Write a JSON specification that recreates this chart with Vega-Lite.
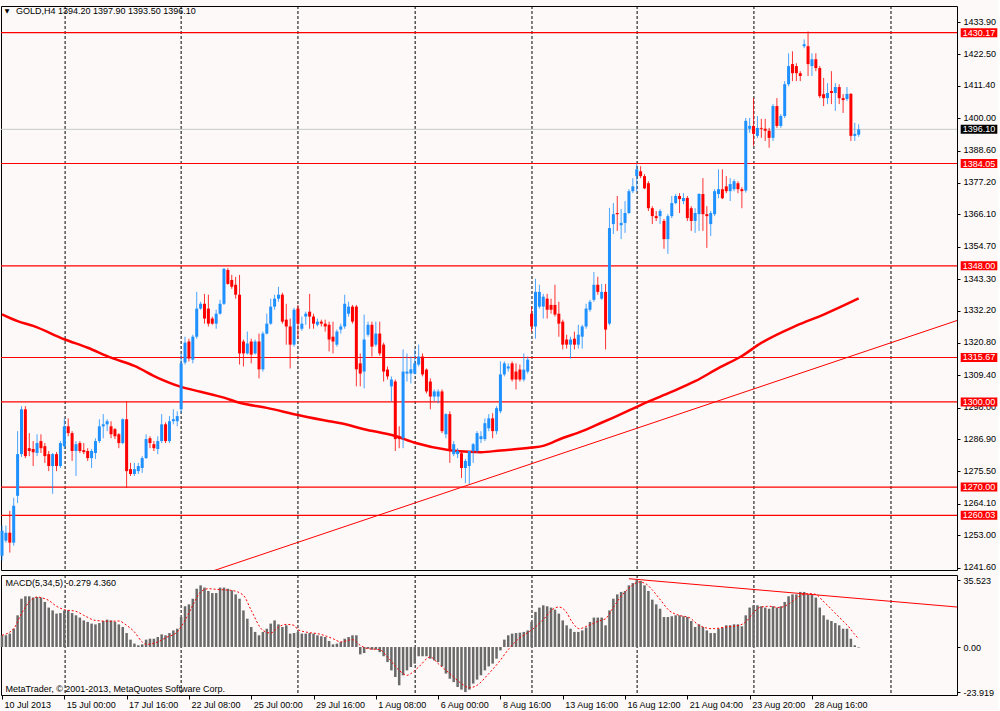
{
"$schema": "https://vega.github.io/schema/vega-lite/v6.json",
"background": "#FCF9F8",
"padding": {"left": -4, "top": 5, "right": 0, "bottom": 0},
"spacing": 1,
"config": {
  "view": {"stroke": "#000000", "strokeWidth": 1, "fill": "#FCF9F8"},
  "scale": {"continuousPadding": 0},
  "axis": {"labelFont": "Liberation Sans", "labelFontSize": 9, "labelColor": "#000000", "tickColor": "#000000", "domainColor": "#000000", "grid": false},
  "text": {"font": "Liberation Sans", "fontSize": 9, "color": "#000000"}
},
"resolve": {"scale": {"x": "independent", "y": "independent"}},
"datasets": {
  "grid": [{"g":16.2},{"g":46},{"g":76},{"g":106.1},{"g":136.1},{"g":163.1},{"g":193.1},{"g":228.3}],
  "levels": [{"p":1430.17},{"p":1384.05},{"p":1348.0},{"p":1315.67},{"p":1300.0},{"p":1270.0},{"p":1260.03}],
  "ma": [{"i":0,"p":1330.9},{"i":4,"p":1328.5},{"i":8,"p":1326.8},{"i":16,"p":1322.1},{"i":22,"p":1319.1},{"i":28,"p":1315.6},{"i":34,"p":1312.7},{"i":40,"p":1308.5},{"i":46,"p":1305.3},{"i":51,"p":1303.6},{"i":57,"p":1301.5},{"i":61,"p":1299.7},{"i":68,"p":1297.9},{"i":76,"p":1295.4},{"i":84,"p":1293.2},{"i":87,"p":1292.5},{"i":93,"p":1290.4},{"i":101,"p":1288.0},{"i":106,"p":1285.6},{"i":115,"p":1283.0},{"i":120,"p":1282.4},{"i":123,"p":1282.3},{"i":128,"p":1282.9},{"i":136,"p":1283.9},{"i":139,"p":1284.5},{"i":144,"p":1287.3},{"i":149,"p":1289.7},{"i":152,"p":1291.5},{"i":157,"p":1294.5},{"i":161,"p":1297.0},{"i":164,"p":1298.9},{"i":171,"p":1303.0},{"i":178,"p":1307.3},{"i":184,"p":1311.9},{"i":190,"p":1316.2},{"i":195,"p":1320.8},{"i":204,"p":1326.9},{"i":211,"p":1330.8},{"i":220,"p":1336.5}],
  "sig": [{"i":0,"v":6.2},{"i":3,"v":9.7},{"i":5,"v":17.7},{"i":7,"v":23.9},{"i":9,"v":26.5},{"i":10,"v":26.2},{"i":12,"v":24.7},{"i":14,"v":21.6},{"i":16,"v":19.8},{"i":19,"v":18.9},{"i":21,"v":16.8},{"i":24,"v":14.1},{"i":28,"v":13.6},{"i":30,"v":13.8},{"i":32,"v":11.5},{"i":34,"v":8.0},{"i":36,"v":2.7},{"i":37,"v":1.4},{"i":40,"v":2.7},{"i":42,"v":4.9},{"i":45,"v":8.0},{"i":47,"v":14.1},{"i":49,"v":22.1},{"i":51,"v":29.2},{"i":53,"v":30.9},{"i":56,"v":30.4},{"i":59,"v":30.0},{"i":62,"v":27.4},{"i":64,"v":19.4},{"i":67,"v":8.8},{"i":69,"v":7.4},{"i":71,"v":10.6},{"i":73,"v":12.0},{"i":75,"v":11.5},{"i":76,"v":9.2},{"i":79,"v":7.6},{"i":81,"v":7.1},{"i":85,"v":4.4},{"i":87,"v":2.7},{"i":90,"v":3.9},{"i":92,"v":0.9},{"i":94,"v":-0.9},{"i":97,"v":-1.4},{"i":99,"v":-5.3},{"i":102,"v":-12.4},{"i":104,"v":-15.0},{"i":105,"v":-14.1},{"i":107,"v":-10.6},{"i":110,"v":-5.3},{"i":112,"v":-8.8},{"i":115,"v":-14.1},{"i":118,"v":-19.4},{"i":120,"v":-21.6},{"i":122,"v":-20.3},{"i":125,"v":-14.1},{"i":127.6,"v":-8.0},{"i":130.2,"v":-0.9},{"i":132.7,"v":4.4},{"i":135.3,"v":8.0},{"i":137.5,"v":11.5},{"i":139.6,"v":15.9},{"i":141.3,"v":19.8},{"i":143,"v":21.2},{"i":144.7,"v":19.1},{"i":146.4,"v":13.3},{"i":148.2,"v":9.7},{"i":150.7,"v":11.5},{"i":153.3,"v":13.8},{"i":155,"v":15.0},{"i":156.8,"v":20.3},{"i":158.5,"v":25.6},{"i":160.2,"v":29.7},{"i":161.9,"v":32.7},{"i":163.6,"v":34.5},{"i":165.3,"v":33.6},{"i":167.1,"v":30.0},{"i":169.2,"v":24.7},{"i":171.3,"v":19.4},{"i":173.9,"v":16.8},{"i":176.5,"v":15.6},{"i":179,"v":11.5},{"i":182.5,"v":9.7},{"i":185.9,"v":10.6},{"i":189.3,"v":11.5},{"i":191,"v":13.3},{"i":192.8,"v":17.7},{"i":194.5,"v":20.9},{"i":197,"v":21.6},{"i":199.6,"v":20.9},{"i":202.2,"v":23.0},{"i":204.7,"v":26.9},{"i":207.3,"v":28.3},{"i":209,"v":27.9},{"i":210.7,"v":24.7},{"i":213.3,"v":19.4},{"i":215.8,"v":14.1},{"i":217.5,"v":10.6},{"i":218.8,"v":7.1},{"i":220,"v":4.36}],
  "bars": [
{"i":0,"o":1245.8,"h":1256.4,"l":1244.1,"c":1254.6,"m":6.2},
{"i":1,"o":1251.1,"h":1256.4,"l":1250.4,"c":1253.9,"m":6.2},
{"i":2,"o":1253.9,"h":1261.6,"l":1246.9,"c":1250.4,"m":7.1},
{"i":3,"o":1250.4,"h":1266.2,"l":1249.3,"c":1263.4,"m":9.7},
{"i":4,"o":1266.9,"h":1289.7,"l":1264.4,"c":1281.6,"m":16.8},
{"i":5,"o":1281.6,"h":1298.5,"l":1280.6,"c":1297.4,"m":25.6},
{"i":6,"o":1297.4,"h":1298.5,"l":1280.2,"c":1280.9,"m":26.9},
{"i":7,"o":1283.7,"h":1289.0,"l":1280.9,"c":1282.7,"m":26.9},
{"i":8,"o":1283.4,"h":1286.2,"l":1277.4,"c":1282.3,"m":26.2},
{"i":9,"o":1282.0,"h":1288.6,"l":1280.9,"c":1285.5,"m":26.5},
{"i":10,"o":1286.2,"h":1288.6,"l":1282.0,"c":1283.7,"m":26.2},
{"i":11,"o":1284.4,"h":1285.5,"l":1278.5,"c":1280.9,"m":23.9},
{"i":12,"o":1281.6,"h":1282.7,"l":1275.6,"c":1277.4,"m":20.9},
{"i":13,"o":1277.4,"h":1282.0,"l":1267.6,"c":1281.6,"m":19.4},
{"i":14,"o":1281.6,"h":1282.3,"l":1275.6,"c":1277.4,"m":17.7},
{"i":15,"o":1277.4,"h":1286.2,"l":1276.7,"c":1285.5,"m":18.0},
{"i":16,"o":1284.4,"h":1294.2,"l":1283.4,"c":1291.4,"m":19.4},
{"i":17,"o":1291.4,"h":1294.2,"l":1287.9,"c":1289.0,"m":19.4},
{"i":18,"o":1289.0,"h":1289.7,"l":1279.2,"c":1282.7,"m":18.0},
{"i":19,"o":1282.7,"h":1286.2,"l":1273.9,"c":1285.1,"m":16.8},
{"i":20,"o":1285.5,"h":1286.2,"l":1282.0,"c":1282.7,"m":15.6},
{"i":21,"o":1283.0,"h":1285.5,"l":1281.6,"c":1282.3,"m":14.1},
{"i":22,"o":1282.7,"h":1283.7,"l":1279.2,"c":1280.2,"m":13.3},
{"i":23,"o":1280.2,"h":1283.4,"l":1276.7,"c":1282.7,"m":12.4},
{"i":24,"o":1282.0,"h":1287.2,"l":1279.9,"c":1286.2,"m":12.0},
{"i":25,"o":1286.2,"h":1293.9,"l":1285.5,"c":1291.4,"m":12.7},
{"i":26,"o":1291.4,"h":1295.7,"l":1287.2,"c":1292.1,"m":13.8},
{"i":27,"o":1292.1,"h":1293.9,"l":1289.7,"c":1293.2,"m":14.5},
{"i":28,"o":1291.4,"h":1293.2,"l":1287.2,"c":1288.6,"m":14.1},
{"i":29,"o":1290.4,"h":1290.8,"l":1286.9,"c":1287.9,"m":13.3},
{"i":30,"o":1288.6,"h":1289.0,"l":1283.7,"c":1285.5,"m":12.0},
{"i":31,"o":1285.5,"h":1294.2,"l":1285.1,"c":1293.9,"m":10.6},
{"i":32,"o":1293.9,"h":1300.2,"l":1269.7,"c":1275.6,"m":7.4},
{"i":33,"o":1276.3,"h":1278.5,"l":1273.9,"c":1274.6,"m":3.9},
{"i":34,"o":1274.6,"h":1278.5,"l":1273.9,"c":1276.3,"m":1.8},
{"i":35,"o":1275.6,"h":1278.5,"l":1274.6,"c":1277.4,"m":0.9},
{"i":36,"o":1276.7,"h":1280.9,"l":1275.0,"c":1280.2,"m":1.4},
{"i":37,"o":1280.2,"h":1288.6,"l":1279.9,"c":1286.9,"m":3.9},
{"i":38,"o":1287.2,"h":1287.9,"l":1283.7,"c":1285.5,"m":4.4},
{"i":39,"o":1285.1,"h":1286.2,"l":1282.7,"c":1283.7,"m":4.4},
{"i":40,"o":1283.4,"h":1287.9,"l":1281.6,"c":1286.2,"m":5.3},
{"i":41,"o":1286.2,"h":1295.7,"l":1285.5,"c":1292.1,"m":6.7},
{"i":42,"o":1292.1,"h":1292.8,"l":1285.5,"c":1286.2,"m":6.2},
{"i":43,"o":1286.2,"h":1295.0,"l":1285.5,"c":1293.2,"m":7.4},
{"i":44,"o":1293.2,"h":1297.4,"l":1292.1,"c":1293.9,"m":8.8},
{"i":45,"o":1293.2,"h":1296.7,"l":1291.4,"c":1295.0,"m":9.7},
{"i":46,"o":1297.4,"h":1317.1,"l":1296.0,"c":1313.6,"m":15.9},
{"i":47,"o":1313.9,"h":1323.0,"l":1313.2,"c":1320.9,"m":21.6},
{"i":48,"o":1321.3,"h":1322.3,"l":1314.3,"c":1315.3,"m":22.6},
{"i":49,"o":1314.9,"h":1323.7,"l":1313.6,"c":1323.0,"m":25.6},
{"i":50,"o":1323.0,"h":1338.8,"l":1322.3,"c":1332.9,"m":30.9},
{"i":51,"o":1332.9,"h":1335.3,"l":1332.5,"c":1334.6,"m":32.7},
{"i":52,"o":1334.6,"h":1338.1,"l":1327.6,"c":1329.4,"m":31.5},
{"i":53,"o":1332.9,"h":1337.8,"l":1326.6,"c":1327.6,"m":29.7},
{"i":54,"o":1329.4,"h":1330.1,"l":1327.2,"c":1327.6,"m":28.6},
{"i":55,"o":1327.6,"h":1332.5,"l":1325.8,"c":1331.1,"m":28.6},
{"i":56,"o":1331.1,"h":1336.0,"l":1330.8,"c":1334.6,"m":31.5},
{"i":57,"o":1334.6,"h":1347.2,"l":1334.2,"c":1346.9,"m":31.5},
{"i":58,"o":1346.5,"h":1347.2,"l":1341.3,"c":1341.6,"m":30.9},
{"i":59,"o":1343.0,"h":1344.8,"l":1339.9,"c":1340.6,"m":30.0},
{"i":60,"o":1341.3,"h":1344.1,"l":1336.4,"c":1337.8,"m":27.9},
{"i":61,"o":1337.8,"h":1344.8,"l":1313.2,"c":1317.1,"m":25.6},
{"i":62,"o":1321.3,"h":1322.0,"l":1312.5,"c":1317.1,"m":19.4},
{"i":63,"o":1317.1,"h":1324.8,"l":1316.7,"c":1320.6,"m":15.0},
{"i":64,"o":1321.3,"h":1322.3,"l":1313.6,"c":1316.7,"m":10.6},
{"i":65,"o":1317.1,"h":1322.0,"l":1316.7,"c":1321.3,"m":8.0},
{"i":66,"o":1321.3,"h":1324.1,"l":1308.3,"c":1311.5,"m":6.2},
{"i":67,"o":1311.5,"h":1324.8,"l":1310.7,"c":1324.1,"m":8.0},
{"i":68,"o":1324.1,"h":1331.1,"l":1323.8,"c":1327.6,"m":9.7},
{"i":69,"o":1327.6,"h":1336.4,"l":1327.2,"c":1333.6,"m":12.4},
{"i":70,"o":1333.6,"h":1337.8,"l":1332.5,"c":1336.4,"m":14.1},
{"i":71,"o":1336.4,"h":1340.6,"l":1335.3,"c":1337.8,"m":12.0},
{"i":72,"o":1337.8,"h":1338.5,"l":1327.6,"c":1328.3,"m":10.6},
{"i":73,"o":1329.0,"h":1334.6,"l":1320.2,"c":1326.6,"m":11.5},
{"i":74,"o":1326.6,"h":1329.4,"l":1311.8,"c":1320.2,"m":7.1},
{"i":75,"o":1320.2,"h":1333.2,"l":1319.5,"c":1332.5,"m":7.4},
{"i":76,"o":1332.9,"h":1334.2,"l":1322.3,"c":1327.6,"m":8.0},
{"i":77,"o":1325.8,"h":1330.1,"l":1325.1,"c":1327.6,"m":7.1},
{"i":78,"o":1330.1,"h":1331.8,"l":1327.2,"c":1331.1,"m":7.1},
{"i":79,"o":1331.8,"h":1338.1,"l":1325.8,"c":1330.1,"m":7.4},
{"i":80,"o":1330.1,"h":1331.1,"l":1325.8,"c":1327.6,"m":7.1},
{"i":81,"o":1327.2,"h":1329.4,"l":1326.6,"c":1328.3,"m":6.2},
{"i":82,"o":1328.3,"h":1329.0,"l":1326.6,"c":1327.6,"m":5.7},
{"i":83,"o":1327.6,"h":1329.0,"l":1324.8,"c":1326.6,"m":5.3},
{"i":84,"o":1327.2,"h":1328.3,"l":1317.8,"c":1322.0,"m":3.2},
{"i":85,"o":1323.0,"h":1328.3,"l":1317.1,"c":1321.3,"m":1.4},
{"i":86,"o":1320.2,"h":1325.5,"l":1319.5,"c":1324.8,"m":1.8},
{"i":87,"o":1325.5,"h":1327.6,"l":1324.1,"c":1326.6,"m":2.7},
{"i":88,"o":1326.6,"h":1337.8,"l":1325.8,"c":1334.6,"m":4.4},
{"i":89,"o":1331.1,"h":1335.3,"l":1330.1,"c":1333.6,"m":5.3},
{"i":90,"o":1333.6,"h":1334.2,"l":1327.6,"c":1328.3,"m":6.2},
{"i":91,"o":1333.6,"h":1334.2,"l":1305.5,"c":1311.5,"m":6.2},
{"i":92,"o":1313.6,"h":1317.1,"l":1305.5,"c":1310.0,"m":-3.9},
{"i":93,"o":1310.7,"h":1330.8,"l":1304.8,"c":1322.0,"m":-3.2},
{"i":94,"o":1323.7,"h":1328.3,"l":1323.0,"c":1327.2,"m":-0.9},
{"i":95,"o":1327.2,"h":1328.3,"l":1316.0,"c":1319.5,"m":-1.4},
{"i":96,"o":1320.2,"h":1328.3,"l":1319.5,"c":1324.1,"m":-1.4},
{"i":97,"o":1324.1,"h":1328.3,"l":1316.3,"c":1317.1,"m":-2.7},
{"i":98,"o":1320.2,"h":1320.9,"l":1307.2,"c":1310.7,"m":-4.9},
{"i":99,"o":1311.4,"h":1312.5,"l":1307.9,"c":1309.0,"m":-8.0},
{"i":100,"o":1305.5,"h":1309.0,"l":1300.2,"c":1307.9,"m":-12.4},
{"i":101,"o":1307.2,"h":1307.9,"l":1282.7,"c":1286.9,"m":-15.9},
{"i":102,"o":1287.9,"h":1291.4,"l":1283.7,"c":1286.9,"m":-20.3},
{"i":103,"o":1287.2,"h":1318.5,"l":1283.7,"c":1310.7,"m":-15.0},
{"i":104,"o":1310.0,"h":1317.1,"l":1307.2,"c":1310.7,"m":-12.4},
{"i":105,"o":1310.0,"h":1316.0,"l":1306.5,"c":1311.5,"m":-10.6},
{"i":106,"o":1310.0,"h":1318.5,"l":1309.7,"c":1313.6,"m":-8.8},
{"i":107,"o":1313.2,"h":1320.2,"l":1312.5,"c":1316.0,"m":-4.9},
{"i":108,"o":1316.0,"h":1317.1,"l":1309.0,"c":1309.7,"m":-4.9},
{"i":109,"o":1311.4,"h":1311.8,"l":1303.0,"c":1303.7,"m":-4.9},
{"i":110,"o":1307.2,"h":1308.3,"l":1297.4,"c":1301.9,"m":-6.2},
{"i":111,"o":1301.9,"h":1304.4,"l":1300.2,"c":1303.7,"m":-7.1},
{"i":112,"o":1301.9,"h":1304.4,"l":1299.5,"c":1303.7,"m":-8.0},
{"i":113,"o":1303.7,"h":1304.4,"l":1289.0,"c":1289.7,"m":-10.3},
{"i":114,"o":1288.6,"h":1296.0,"l":1287.2,"c":1295.7,"m":-14.1},
{"i":115,"o":1295.7,"h":1296.7,"l":1278.5,"c":1283.4,"m":-16.8},
{"i":116,"o":1281.6,"h":1286.2,"l":1280.9,"c":1285.1,"m":-18.6},
{"i":117,"o":1281.6,"h":1283.7,"l":1280.2,"c":1282.7,"m":-21.2},
{"i":118,"o":1281.9,"h":1282.7,"l":1273.2,"c":1276.7,"m":-22.6},
{"i":119,"o":1276.7,"h":1279.9,"l":1271.4,"c":1279.2,"m":-23.9},
{"i":120,"o":1277.4,"h":1281.6,"l":1271.1,"c":1282.7,"m":-22.6},
{"i":121,"o":1282.7,"h":1285.5,"l":1278.5,"c":1285.1,"m":-19.4},
{"i":122,"o":1282.7,"h":1289.7,"l":1282.0,"c":1289.0,"m":-17.3},
{"i":123,"o":1286.9,"h":1289.7,"l":1285.5,"c":1287.9,"m":-15.0},
{"i":124,"o":1286.9,"h":1294.2,"l":1286.2,"c":1292.5,"m":-12.4},
{"i":125,"o":1290.7,"h":1295.7,"l":1289.7,"c":1294.2,"m":-10.3},
{"i":126,"o":1294.2,"h":1296.0,"l":1287.2,"c":1289.7,"m":-8.8},
{"i":127,"o":1289.7,"h":1298.5,"l":1288.6,"c":1297.8,"m":-6.2},
{"i":128,"o":1296.7,"h":1314.3,"l":1296.0,"c":1309.7,"m":-1.8},
{"i":129,"o":1309.7,"h":1314.3,"l":1309.0,"c":1313.6,"m":3.9},
{"i":130,"o":1311.8,"h":1313.6,"l":1310.7,"c":1312.5,"m":6.2},
{"i":131,"o":1313.6,"h":1314.3,"l":1307.2,"c":1307.9,"m":7.1},
{"i":132,"o":1310.7,"h":1313.6,"l":1304.4,"c":1307.9,"m":7.4},
{"i":133,"o":1311.4,"h":1313.2,"l":1307.2,"c":1307.9,"m":7.6},
{"i":134,"o":1307.9,"h":1317.1,"l":1307.2,"c":1311.4,"m":8.0},
{"i":135,"o":1310.7,"h":1316.0,"l":1310.0,"c":1314.9,"m":8.8},
{"i":136,"o":1331.1,"h":1333.6,"l":1324.8,"c":1326.6,"m":13.3},
{"i":137,"o":1326.6,"h":1343.4,"l":1322.3,"c":1338.8,"m":18.6},
{"i":138,"o":1333.6,"h":1341.3,"l":1332.9,"c":1338.8,"m":20.9},
{"i":139,"o":1333.6,"h":1338.1,"l":1329.4,"c":1337.1,"m":22.1},
{"i":140,"o":1336.4,"h":1338.1,"l":1329.4,"c":1332.5,"m":21.6},
{"i":141,"o":1334.2,"h":1336.4,"l":1331.1,"c":1332.5,"m":20.9},
{"i":142,"o":1334.2,"h":1341.3,"l":1330.1,"c":1330.8,"m":19.8},
{"i":143,"o":1331.1,"h":1335.3,"l":1323.0,"c":1327.6,"m":17.7},
{"i":144,"o":1328.3,"h":1329.0,"l":1318.5,"c":1320.2,"m":14.1},
{"i":145,"o":1322.0,"h":1323.7,"l":1318.8,"c":1320.2,"m":11.5},
{"i":146,"o":1320.2,"h":1323.0,"l":1315.3,"c":1322.0,"m":9.7},
{"i":147,"o":1322.3,"h":1324.8,"l":1318.5,"c":1320.2,"m":8.0},
{"i":148,"o":1320.2,"h":1327.2,"l":1318.8,"c":1323.7,"m":8.0},
{"i":149,"o":1323.0,"h":1327.2,"l":1318.8,"c":1326.6,"m":8.8},
{"i":150,"o":1326.6,"h":1334.6,"l":1325.8,"c":1332.9,"m":10.3},
{"i":151,"o":1332.5,"h":1336.0,"l":1331.8,"c":1335.3,"m":13.3},
{"i":152,"o":1336.0,"h":1345.8,"l":1335.3,"c":1341.3,"m":15.6},
{"i":153,"o":1341.3,"h":1344.1,"l":1337.8,"c":1338.8,"m":15.6},
{"i":154,"o":1336.4,"h":1341.6,"l":1336.0,"c":1338.8,"m":15.6},
{"i":155,"o":1338.8,"h":1341.6,"l":1318.5,"c":1325.5,"m":11.5},
{"i":156,"o":1327.6,"h":1368.4,"l":1327.0,"c":1361.3,"m":19.4},
{"i":157,"o":1362.7,"h":1370.1,"l":1359.2,"c":1366.2,"m":25.6},
{"i":158,"o":1366.6,"h":1372.6,"l":1360.3,"c":1366.2,"m":27.9},
{"i":159,"o":1362.3,"h":1368.0,"l":1357.4,"c":1363.1,"m":29.2},
{"i":160,"o":1363.1,"h":1370.8,"l":1359.6,"c":1366.6,"m":29.7},
{"i":161,"o":1366.6,"h":1375.0,"l":1366.2,"c":1374.3,"m":32.7},
{"i":162,"o":1374.3,"h":1378.9,"l":1373.6,"c":1376.0,"m":33.9},
{"i":163,"o":1379.6,"h":1383.8,"l":1374.3,"c":1382.0,"m":35.5},
{"i":164,"o":1381.3,"h":1383.1,"l":1378.9,"c":1379.6,"m":35.0},
{"i":165,"o":1379.6,"h":1380.3,"l":1375.0,"c":1375.3,"m":32.7},
{"i":166,"o":1377.1,"h":1377.8,"l":1367.3,"c":1368.3,"m":29.7},
{"i":167,"o":1368.3,"h":1369.0,"l":1362.7,"c":1365.5,"m":25.1},
{"i":168,"o":1365.5,"h":1367.3,"l":1363.8,"c":1364.8,"m":22.6},
{"i":169,"o":1365.5,"h":1368.0,"l":1362.7,"c":1367.3,"m":20.3},
{"i":170,"o":1363.8,"h":1364.5,"l":1354.0,"c":1357.4,"m":15.9},
{"i":171,"o":1357.4,"h":1366.2,"l":1352.2,"c":1365.5,"m":15.9},
{"i":172,"o":1365.5,"h":1372.6,"l":1364.8,"c":1370.1,"m":16.3},
{"i":173,"o":1370.1,"h":1373.3,"l":1369.7,"c":1372.6,"m":16.8},
{"i":174,"o":1372.6,"h":1373.6,"l":1366.6,"c":1371.5,"m":16.8},
{"i":175,"o":1370.8,"h":1373.6,"l":1369.7,"c":1371.9,"m":16.3},
{"i":176,"o":1371.9,"h":1372.6,"l":1363.8,"c":1364.8,"m":15.9},
{"i":177,"o":1368.3,"h":1369.0,"l":1360.3,"c":1363.8,"m":13.8},
{"i":178,"o":1363.8,"h":1368.3,"l":1359.6,"c":1366.6,"m":10.6},
{"i":179,"o":1366.2,"h":1373.6,"l":1360.3,"c":1373.3,"m":12.0},
{"i":180,"o":1373.3,"h":1378.9,"l":1360.3,"c":1366.2,"m":10.6},
{"i":181,"o":1366.2,"h":1369.0,"l":1354.3,"c":1365.5,"m":8.8},
{"i":182,"o":1362.7,"h":1367.3,"l":1358.5,"c":1366.6,"m":7.4},
{"i":183,"o":1366.2,"h":1375.0,"l":1365.5,"c":1374.3,"m":7.4},
{"i":184,"o":1373.3,"h":1382.0,"l":1371.8,"c":1375.0,"m":9.7},
{"i":185,"o":1375.0,"h":1382.0,"l":1371.5,"c":1371.8,"m":10.3},
{"i":186,"o":1376.0,"h":1379.6,"l":1373.6,"c":1374.3,"m":11.5},
{"i":187,"o":1374.3,"h":1378.9,"l":1370.8,"c":1376.8,"m":11.5},
{"i":188,"o":1375.0,"h":1378.5,"l":1374.3,"c":1377.8,"m":12.0},
{"i":189,"o":1377.1,"h":1377.8,"l":1373.6,"c":1375.0,"m":12.0},
{"i":190,"o":1375.0,"h":1375.7,"l":1368.3,"c":1374.3,"m":11.0},
{"i":191,"o":1374.5,"h":1400.1,"l":1373.8,"c":1399.1,"m":16.8},
{"i":192,"o":1396.3,"h":1400.1,"l":1394.9,"c":1397.3,"m":20.9},
{"i":193,"o":1397.3,"h":1407.1,"l":1390.3,"c":1394.5,"m":22.1},
{"i":194,"o":1393.8,"h":1400.8,"l":1393.1,"c":1396.6,"m":22.1},
{"i":195,"o":1396.6,"h":1399.8,"l":1393.1,"c":1396.3,"m":21.6},
{"i":196,"o":1396.3,"h":1399.8,"l":1392.0,"c":1395.6,"m":20.9},
{"i":197,"o":1395.6,"h":1396.6,"l":1389.6,"c":1393.1,"m":20.3},
{"i":198,"o":1393.1,"h":1405.0,"l":1392.0,"c":1404.3,"m":21.6},
{"i":199,"o":1404.3,"h":1407.1,"l":1396.6,"c":1397.3,"m":20.9},
{"i":200,"o":1397.3,"h":1401.5,"l":1396.6,"c":1400.8,"m":21.6},
{"i":201,"o":1400.8,"h":1413.1,"l":1400.1,"c":1412.0,"m":23.9},
{"i":202,"o":1412.0,"h":1422.9,"l":1411.3,"c":1418.4,"m":26.9},
{"i":203,"o":1419.1,"h":1423.6,"l":1413.1,"c":1415.9,"m":27.9},
{"i":204,"o":1418.4,"h":1419.4,"l":1413.1,"c":1415.9,"m":27.9},
{"i":205,"o":1415.9,"h":1416.6,"l":1413.1,"c":1414.9,"m":29.2},
{"i":206,"o":1425.4,"h":1427.8,"l":1424.7,"c":1426.1,"m":29.2},
{"i":207,"o":1425.4,"h":1430.6,"l":1414.9,"c":1419.1,"m":27.9},
{"i":208,"o":1418.4,"h":1422.9,"l":1414.9,"c":1420.8,"m":27.9},
{"i":209,"o":1420.8,"h":1422.9,"l":1416.6,"c":1417.7,"m":26.2},
{"i":210,"o":1417.7,"h":1418.4,"l":1407.1,"c":1407.8,"m":20.9},
{"i":211,"o":1408.5,"h":1414.2,"l":1404.3,"c":1407.1,"m":16.8},
{"i":212,"o":1407.1,"h":1412.4,"l":1405.0,"c":1408.9,"m":14.5},
{"i":213,"o":1409.6,"h":1416.6,"l":1405.0,"c":1408.9,"m":13.8},
{"i":214,"o":1408.9,"h":1412.4,"l":1402.6,"c":1411.0,"m":12.7},
{"i":215,"o":1411.0,"h":1412.0,"l":1405.0,"c":1407.1,"m":11.5},
{"i":216,"o":1407.1,"h":1408.5,"l":1401.9,"c":1406.4,"m":9.7},
{"i":217,"o":1406.8,"h":1411.0,"l":1406.1,"c":1408.6,"m":9.7},
{"i":218,"o":1408.6,"h":1408.9,"l":1392.0,"c":1393.8,"m":4.4},
{"i":219,"o":1393.8,"h":1398.4,"l":1392.0,"c":1394.5,"m":0.9},
{"i":220,"o":1394.2,"h":1397.9,"l":1393.5,"c":1396.1,"m":-0.279}
  ]
},
"vconcat": [
{
  "width": 956, "height": 564,
  "layer": [
    {"data": {"name": "grid"}, "mark": {"type": "rule", "color": "#000000", "strokeWidth": 1, "strokeDash": [3, 2]},
     "encoding": {"x": {"field": "g", "type": "quantitative", "scale": {"domain": [-0.26, 245.25], "nice": false, "zero": false, "padding": 0}, "axis": null}}},
    {"data": {"values": [{"p": 1396.1}]}, "mark": {"type": "rule", "color": "#C8C8C8", "strokeWidth": 1},
     "encoding": {"y": {"field": "p", "type": "quantitative", "scale": {"domain": [1240.75, 1439.58], "nice": false, "zero": false, "padding": 0},
       "axis": {"orient": "right", "title": null, "values": [1433.9,1422.5,1411.4,1400,1388.6,1377.2,1366.1,1354.7,1343.3,1332.2,1320.8,1309.4,1298,1286.9,1275.5,1264.1,1253,1241.6], "format": ".2f", "tickSize": 3, "labelPadding": 3, "domain": false, "labelOverlap": false, "labelOffset": -1}}}},
    {"data": {"name": "levels"}, "mark": {"type": "rule", "color": "#FF0000", "strokeWidth": 1.2},
     "encoding": {"y": {"field": "p", "type": "quantitative", "scale": {"domain": [1240.75, 1439.58], "nice": false, "zero": false, "padding": 0},
       "axis": {"orient": "right", "title": null, "values": [1433.9,1422.5,1411.4,1400,1388.6,1377.2,1366.1,1354.7,1343.3,1332.2,1320.8,1309.4,1298,1286.9,1275.5,1264.1,1253,1241.6], "format": ".2f", "tickSize": 3, "labelPadding": 3, "domain": false, "labelOverlap": false, "labelOffset": -1}}}},
    {"data": {"values": [{"i": 50, "p": 1238.5}, {"i": 245.25, "p": 1328.7}]}, "mark": {"type": "line", "color": "#FF0000", "strokeWidth": 1, "clip": true},
     "encoding": {"x": {"field": "i", "type": "quantitative", "scale": {"domain": [-0.26, 245.25], "nice": false, "zero": false, "padding": 0}, "axis": null},
                  "y": {"field": "p", "type": "quantitative", "scale": {"domain": [1240.75, 1439.58], "nice": false, "zero": false, "padding": 0},
       "axis": {"orient": "right", "title": null, "values": [1433.9,1422.5,1411.4,1400,1388.6,1377.2,1366.1,1354.7,1343.3,1332.2,1320.8,1309.4,1298,1286.9,1275.5,1264.1,1253,1241.6], "format": ".2f", "tickSize": 3, "labelPadding": 3, "domain": false, "labelOverlap": false, "labelOffset": -1}}}},
    {"data": {"name": "ma"}, "mark": {"type": "line", "color": "#FF0000", "strokeWidth": 2.5, "interpolate": "monotone"},
     "encoding": {"x": {"field": "i", "type": "quantitative", "scale": {"domain": [-0.26, 245.25], "nice": false, "zero": false, "padding": 0}, "axis": null},
                  "y": {"field": "p", "type": "quantitative", "scale": {"domain": [1240.75, 1439.58], "nice": false, "zero": false, "padding": 0},
       "axis": {"orient": "right", "title": null, "values": [1433.9,1422.5,1411.4,1400,1388.6,1377.2,1366.1,1354.7,1343.3,1332.2,1320.8,1309.4,1298,1286.9,1275.5,1264.1,1253,1241.6], "format": ".2f", "tickSize": 3, "labelPadding": 3, "domain": false, "labelOverlap": false, "labelOffset": -1}}}},
    {"data": {"name": "bars"}, "mark": {"type": "rule", "strokeWidth": 1, "opacity": 0.8},
     "encoding": {"x": {"field": "i", "type": "quantitative", "scale": {"domain": [-0.26, 245.25], "nice": false, "zero": false, "padding": 0}, "axis": null},
                  "y": {"field": "l", "type": "quantitative", "scale": {"domain": [1240.75, 1439.58], "nice": false, "zero": false, "padding": 0},
       "axis": {"orient": "right", "title": null, "values": [1433.9,1422.5,1411.4,1400,1388.6,1377.2,1366.1,1354.7,1343.3,1332.2,1320.8,1309.4,1298,1286.9,1275.5,1264.1,1253,1241.6], "format": ".2f", "tickSize": 3, "labelPadding": 3, "domain": false, "labelOverlap": false, "labelOffset": -1}},
                  "y2": {"field": "h"},
                  "color": {"condition": {"test": "datum.c >= datum.o", "value": "#1E90FF"}, "value": "#FF0000"}}},
    {"data": {"name": "bars"}, "mark": {"type": "bar", "orient": "vertical", "size": 3},
     "encoding": {"x": {"field": "i", "type": "quantitative", "scale": {"domain": [-0.26, 245.25], "nice": false, "zero": false, "padding": 0}, "axis": null},
                  "y": {"field": "o", "type": "quantitative", "scale": {"domain": [1240.75, 1439.58], "nice": false, "zero": false, "padding": 0},
       "axis": {"orient": "right", "title": null, "values": [1433.9,1422.5,1411.4,1400,1388.6,1377.2,1366.1,1354.7,1343.3,1332.2,1320.8,1309.4,1298,1286.9,1275.5,1264.1,1253,1241.6], "format": ".2f", "tickSize": 3, "labelPadding": 3, "domain": false, "labelOverlap": false, "labelOffset": -1}},
                  "y2": {"field": "c"},
                  "color": {"condition": {"test": "datum.c >= datum.o", "value": "#1E90FF"}, "value": "#FF0000"}}},
    {"data": {"values": [{"t": "▼"}]}, "mark": {"type": "text", "align": "center", "baseline": "middle", "fontSize": 6, "font": "DejaVu Sans"},
     "encoding": {"x": {"datum": 1.3, "type": "quantitative", "scale": {"domain": [-0.26, 245.25], "nice": false, "zero": false, "padding": 0}, "axis": null},
                  "y": {"datum": 1437.8, "type": "quantitative", "scale": {"domain": [1240.75, 1439.58], "nice": false, "zero": false, "padding": 0},
       "axis": {"orient": "right", "title": null, "values": [1433.9,1422.5,1411.4,1400,1388.6,1377.2,1366.1,1354.7,1343.3,1332.2,1320.8,1309.4,1298,1286.9,1275.5,1264.1,1253,1241.6], "format": ".2f", "tickSize": 3, "labelPadding": 3, "domain": false, "labelOverlap": false, "labelOffset": -1}},
                  "text": {"field": "t"}}},
    {"data": {"values": [{"t": "GOLD,H4  1394.20 1397.90 1393.50 1396.10"}]}, "mark": {"type": "text", "align": "left", "baseline": "middle"},
     "encoding": {"x": {"datum": 3.6, "type": "quantitative", "scale": {"domain": [-0.26, 245.25], "nice": false, "zero": false, "padding": 0}, "axis": null},
                  "y": {"datum": 1437.8, "type": "quantitative", "scale": {"domain": [1240.75, 1439.58], "nice": false, "zero": false, "padding": 0},
       "axis": {"orient": "right", "title": null, "values": [1433.9,1422.5,1411.4,1400,1388.6,1377.2,1366.1,1354.7,1343.3,1332.2,1320.8,1309.4,1298,1286.9,1275.5,1264.1,1253,1241.6], "format": ".2f", "tickSize": 3, "labelPadding": 3, "domain": false, "labelOverlap": false, "labelOffset": -1}},
                  "text": {"field": "t"}}},
    {"data": {"name": "levels"}, "mark": {"type": "bar", "orient": "horizontal", "size": 9, "color": "#FF0000"},
     "encoding": {"x": {"datum": 246.2, "type": "quantitative", "scale": {"domain": [-0.26, 245.25], "nice": false, "zero": false, "padding": 0}, "axis": null},
                  "x2": {"datum": 255.6},
                  "y": {"field": "p", "type": "quantitative", "scale": {"domain": [1240.75, 1439.58], "nice": false, "zero": false, "padding": 0},
       "axis": {"orient": "right", "title": null, "values": [1433.9,1422.5,1411.4,1400,1388.6,1377.2,1366.1,1354.7,1343.3,1332.2,1320.8,1309.4,1298,1286.9,1275.5,1264.1,1253,1241.6], "format": ".2f", "tickSize": 3, "labelPadding": 3, "domain": false, "labelOverlap": false, "labelOffset": -1}}}},
    {"data": {"values": [{"p": 1396.1}]}, "mark": {"type": "bar", "orient": "horizontal", "size": 9, "color": "#000000"},
     "encoding": {"x": {"datum": 246.2, "type": "quantitative", "scale": {"domain": [-0.26, 245.25], "nice": false, "zero": false, "padding": 0}, "axis": null},
                  "x2": {"datum": 255.6},
                  "y": {"field": "p", "type": "quantitative", "scale": {"domain": [1240.75, 1439.58], "nice": false, "zero": false, "padding": 0},
       "axis": {"orient": "right", "title": null, "values": [1433.9,1422.5,1411.4,1400,1388.6,1377.2,1366.1,1354.7,1343.3,1332.2,1320.8,1309.4,1298,1286.9,1275.5,1264.1,1253,1241.6], "format": ".2f", "tickSize": 3, "labelPadding": 3, "domain": false, "labelOverlap": false, "labelOffset": -1}}}},
    {"data": {"name": "levels"}, "mark": {"type": "text", "align": "center", "baseline": "middle", "color": "#FFFFFF"},
     "encoding": {"x": {"datum": 250.9, "type": "quantitative", "scale": {"domain": [-0.26, 245.25], "nice": false, "zero": false, "padding": 0}, "axis": null},
                  "y": {"field": "p", "type": "quantitative", "scale": {"domain": [1240.75, 1439.58], "nice": false, "zero": false, "padding": 0},
       "axis": {"orient": "right", "title": null, "values": [1433.9,1422.5,1411.4,1400,1388.6,1377.2,1366.1,1354.7,1343.3,1332.2,1320.8,1309.4,1298,1286.9,1275.5,1264.1,1253,1241.6], "format": ".2f", "tickSize": 3, "labelPadding": 3, "domain": false, "labelOverlap": false, "labelOffset": -1}},
                  "text": {"field": "p", "format": ".2f"}}},
    {"data": {"values": [{"p": 1396.1}]}, "mark": {"type": "text", "align": "center", "baseline": "middle", "color": "#FFFFFF"},
     "encoding": {"x": {"datum": 250.9, "type": "quantitative", "scale": {"domain": [-0.26, 245.25], "nice": false, "zero": false, "padding": 0}, "axis": null},
                  "y": {"field": "p", "type": "quantitative", "scale": {"domain": [1240.75, 1439.58], "nice": false, "zero": false, "padding": 0},
       "axis": {"orient": "right", "title": null, "values": [1433.9,1422.5,1411.4,1400,1388.6,1377.2,1366.1,1354.7,1343.3,1332.2,1320.8,1309.4,1298,1286.9,1275.5,1264.1,1253,1241.6], "format": ".2f", "tickSize": 3, "labelPadding": 3, "domain": false, "labelOverlap": false, "labelOffset": -1}},
                  "text": {"field": "p", "format": ".2f"}}}
  ]
},
{
  "width": 956, "height": 120,
  "layer": [
    {"data": {"name": "grid"}, "mark": {"type": "rule", "color": "#000000", "strokeWidth": 1, "strokeDash": [3, 2]},
     "encoding": {"x": {"field": "g", "type": "quantitative", "scale": {"domain": [-0.26, 245.25], "nice": false, "zero": false, "padding": 0},
                    "axis": {"title": null, "values": [0,16,32,48,64,80,96,112,128,144,160,176,192,208], "labelExpr": "['10 Jul 2013','15 Jul 00:00','17 Jul 16:00','22 Jul 08:00','25 Jul 00:00','29 Jul 16:00','1 Aug 08:00','6 Aug 00:00','8 Aug 16:00','13 Aug 16:00','16 Aug 12:00','21 Aug 04:00','23 Aug 20:00','28 Aug 16:00'][round(datum.value/16)]", "labelAlign": "left", "labelBaseline": "top", "labelPadding": 1, "labelOffset": 2, "tickSize": 4, "domain": false, "labelOverlap": false}}}},
    {"data": {"name": "bars"}, "mark": {"type": "bar", "orient": "vertical", "size": 2.5, "color": "#6A6A6A"},
     "encoding": {"x": {"field": "i", "type": "quantitative", "scale": {"domain": [-0.26, 245.25], "nice": false, "zero": false, "padding": 0},
                    "axis": {"title": null, "values": [0,16,32,48,64,80,96,112,128,144,160,176,192,208], "labelExpr": "['10 Jul 2013','15 Jul 00:00','17 Jul 16:00','22 Jul 08:00','25 Jul 00:00','29 Jul 16:00','1 Aug 08:00','6 Aug 00:00','8 Aug 16:00','13 Aug 16:00','16 Aug 12:00','21 Aug 04:00','23 Aug 20:00','28 Aug 16:00'][round(datum.value/16)]", "labelAlign": "left", "labelBaseline": "top", "labelPadding": 1, "labelOffset": 2, "tickSize": 4, "domain": false, "labelOverlap": false}},
                  "y": {"field": "m", "type": "quantitative", "scale": {"domain": [-25.45, 38.18], "nice": false, "zero": false, "padding": 0},
                    "axis": {"orient": "right", "title": null, "values": [35.523, 0, -23.919], "labelExpr": "datum.value > 30 ? '35.523' : (datum.value < -20 ? '-23.919' : '0.00')", "tickSize": 3, "labelPadding": 3, "domain": false, "labelOverlap": false}},
                  "y2": {"datum": 0}}},
    {"data": {"name": "sig"}, "mark": {"type": "line", "color": "#FF0000", "strokeWidth": 1, "strokeDash": [2, 2], "interpolate": "monotone"},
     "encoding": {"x": {"field": "i", "type": "quantitative", "scale": {"domain": [-0.26, 245.25], "nice": false, "zero": false, "padding": 0},
                    "axis": {"title": null, "values": [0,16,32,48,64,80,96,112,128,144,160,176,192,208], "labelExpr": "['10 Jul 2013','15 Jul 00:00','17 Jul 16:00','22 Jul 08:00','25 Jul 00:00','29 Jul 16:00','1 Aug 08:00','6 Aug 00:00','8 Aug 16:00','13 Aug 16:00','16 Aug 12:00','21 Aug 04:00','23 Aug 20:00','28 Aug 16:00'][round(datum.value/16)]", "labelAlign": "left", "labelBaseline": "top", "labelPadding": 1, "labelOffset": 2, "tickSize": 4, "domain": false, "labelOverlap": false}},
                  "y": {"field": "v", "type": "quantitative", "scale": {"domain": [-25.45, 38.18], "nice": false, "zero": false, "padding": 0},
                    "axis": {"orient": "right", "title": null, "values": [35.523, 0, -23.919], "labelExpr": "datum.value > 30 ? '35.523' : (datum.value < -20 ? '-23.919' : '0.00')", "tickSize": 3, "labelPadding": 3, "domain": false, "labelOverlap": false}}}},
    {"data": {"values": [{"i": 161, "v": 36.2}, {"i": 245.25, "v": 21.2}]}, "mark": {"type": "line", "color": "#FF0000", "strokeWidth": 1, "clip": true},
     "encoding": {"x": {"field": "i", "type": "quantitative", "scale": {"domain": [-0.26, 245.25], "nice": false, "zero": false, "padding": 0},
                    "axis": {"title": null, "values": [0,16,32,48,64,80,96,112,128,144,160,176,192,208], "labelExpr": "['10 Jul 2013','15 Jul 00:00','17 Jul 16:00','22 Jul 08:00','25 Jul 00:00','29 Jul 16:00','1 Aug 08:00','6 Aug 00:00','8 Aug 16:00','13 Aug 16:00','16 Aug 12:00','21 Aug 04:00','23 Aug 20:00','28 Aug 16:00'][round(datum.value/16)]", "labelAlign": "left", "labelBaseline": "top", "labelPadding": 1, "labelOffset": 2, "tickSize": 4, "domain": false, "labelOverlap": false}},
                  "y": {"field": "v", "type": "quantitative", "scale": {"domain": [-25.45, 38.18], "nice": false, "zero": false, "padding": 0},
                    "axis": {"orient": "right", "title": null, "values": [35.523, 0, -23.919], "labelExpr": "datum.value > 30 ? '35.523' : (datum.value < -20 ? '-23.919' : '0.00')", "tickSize": 3, "labelPadding": 3, "domain": false, "labelOverlap": false}}}},
    {"data": {"values": [{"t": "MACD(5,34,5) -0.279 4.360", "v": 33.9}, {"t": "MetaTrader, © 2001-2013, MetaQuotes Software Corp.", "v": -22.3}]}, "mark": {"type": "text", "align": "left", "baseline": "middle"},
     "encoding": {"x": {"datum": 0.9, "type": "quantitative", "scale": {"domain": [-0.26, 245.25], "nice": false, "zero": false, "padding": 0},
                    "axis": {"title": null, "values": [0,16,32,48,64,80,96,112,128,144,160,176,192,208], "labelExpr": "['10 Jul 2013','15 Jul 00:00','17 Jul 16:00','22 Jul 08:00','25 Jul 00:00','29 Jul 16:00','1 Aug 08:00','6 Aug 00:00','8 Aug 16:00','13 Aug 16:00','16 Aug 12:00','21 Aug 04:00','23 Aug 20:00','28 Aug 16:00'][round(datum.value/16)]", "labelAlign": "left", "labelBaseline": "top", "labelPadding": 1, "labelOffset": 2, "tickSize": 4, "domain": false, "labelOverlap": false}},
                  "y": {"field": "v", "type": "quantitative", "scale": {"domain": [-25.45, 38.18], "nice": false, "zero": false, "padding": 0},
                    "axis": {"orient": "right", "title": null, "values": [35.523, 0, -23.919], "labelExpr": "datum.value > 30 ? '35.523' : (datum.value < -20 ? '-23.919' : '0.00')", "tickSize": 3, "labelPadding": 3, "domain": false, "labelOverlap": false}},
                  "text": {"field": "t"}}}
  ]
}
]
}
